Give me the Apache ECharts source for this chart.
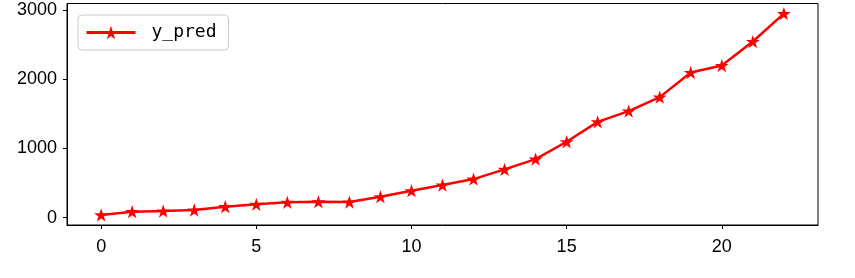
<!DOCTYPE html>
<html>
<head>
<meta charset="utf-8">
<script src="https://cdn.jsdelivr.net/npm/echarts@6/dist/echarts.min.js"></script>
<style>
html,body{margin:0;padding:0;background:#fff;}
#chart{width:855px;height:278px;}
</style>
</head>
<body>
<div id="chart"></div>
<script>
const xValues = [0,1,2,3,4,5,6,7,8,9,10,11,12,13,14,15,16,17,18,19,20,21,22];
const yPred = [40,87,97,111,159,193,222,231,226,303,390,472,558,698,847,1097,1385,1540,1742,2098,2199,2545,2949];
const xTicks = [0,5,10,15,20];
const yTicks = [0,1000,2000,3000];
const seriesName = 'y_pred';

const starPath = 'path://M0,-100 L22.45,-30.9 L95.11,-30.9 L36.33,11.8 L58.78,80.9 L0,38.2 L-58.78,80.9 L-36.33,11.8 L-95.11,-30.9 L-22.45,-30.9 Z';

const chart = echarts.init(document.getElementById('chart'), null, {renderer:'canvas'});
const labelFont = {fontFamily:'Liberation Sans', fontSize:18, color:'#000', formatter:v=>String(v)};
chart.setOption({
  animation:false,
  backgroundColor:'#fff',
  grid:{left:67, right:37, top:3.5, bottom:53, show:true, borderColor:'#000', borderWidth:1, backgroundColor:'transparent'},
  legend:{
    left:78, top:15, padding:[7,12,7,7],
    borderColor:'#cccccc', borderWidth:1, borderRadius:4, backgroundColor:'rgba(255,255,255,0.8)',
    itemWidth:49, itemHeight:17,
    lineStyle:{width:3, color:'#ff0000'},
    textStyle:{fontFamily:'DejaVu Sans Mono', fontSize:18, color:'#000', padding:[0,0,0,11], lineHeight:21},
    data:[seriesName]
  },
  xAxis:{
    type:'value', min:-1.1, max:23.1,
    splitLine:{show:false},
    axisLine:{show:true, onZero:false, lineStyle:{color:'#000', width:1}},
    axisTick:{show:true, customValues:xTicks, length:4, lineStyle:{color:'#000', width:1}},
    axisLabel:Object.assign({customValues:xTicks, margin:13}, labelFont)
  },
  yAxis:{
    type:'value', min:-105.5, max:3094.5,
    splitLine:{show:false},
    axisLine:{show:true, onZero:false, lineStyle:{color:'#000', width:1}},
    axisTick:{show:true, customValues:yTicks, length:4, lineStyle:{color:'#000', width:1}},
    axisLabel:Object.assign({customValues:yTicks, margin:10}, labelFont)
  },
  series:[{
    name:seriesName, type:'line',
    data:xValues.map((x,i)=>[x, yPred[i]]),
    symbol:starPath, symbolSize:[14,13.3], showAllSymbol:true,
    lineStyle:{color:'#ff0000', width:2.5},
    itemStyle:{color:'#ff0000', borderWidth:0},
    z:3
  }]
});
</script>
</body>
</html>
